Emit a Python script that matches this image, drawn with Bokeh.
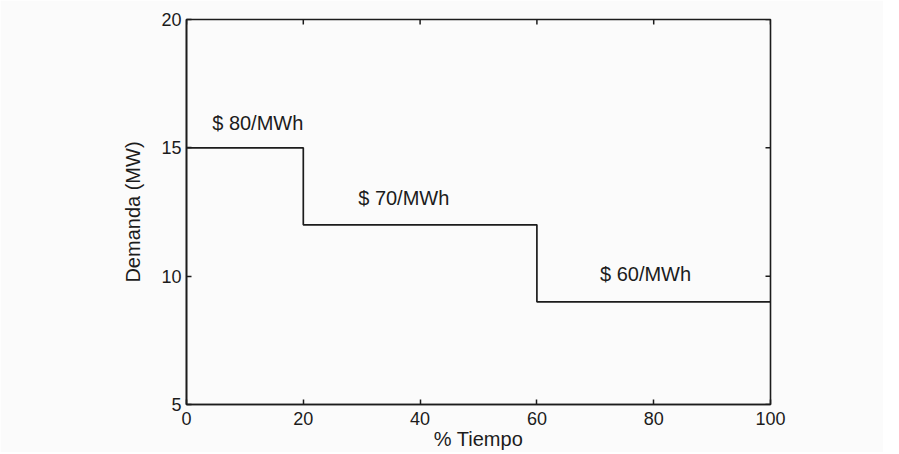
import math
from bokeh.plotting import figure
from bokeh.models import Range1d, FixedTicker
from bokeh.core.properties import value
from bokeh.embed import file_html
from bokeh.resources import INLINE

# Data
tiempo = [0, 20, 60, 100]          # % Tiempo breakpoints
demanda = [15, 12, 9, 9]           # MW per block
precios = ["$ 80/MWh", "$ 70/MWh", "$ 60/MWh"]
label_x = [4.4, 29.4, 70.8]
label_y = [15.95, 13.05, 10.1]
x_ticks = [0, 20, 40, 60, 80, 100]
y_ticks = [5, 10, 15, 20]

FONT = "Liberation Sans"
INK = "#1c1c1c"
BG = "#fbfbfb"

p = figure(width=883, height=452, output_backend="svg", toolbar_location=None,
           x_range=Range1d(0, 100), y_range=Range1d(5, 20),
           min_border_left=186, min_border_right=113,
           min_border_top=19, min_border_bottom=47)
p.background_fill_color = BG
p.border_fill_color = BG
p.outline_line_color = INK
p.outline_line_width = 1.6
p.grid.visible = False

p.step(x=tiempo, y=demanda, mode="after", line_color=INK, line_width=1.7)

p.text(x=label_x, y=label_y, text=precios, text_font=value(FONT),
       text_font_size="20px", text_color=INK, text_align="left",
       text_baseline="middle")

# inward ticks on the top and right edges (mirroring the main axes)
p.scatter(x=x_ticks, y=[y_ticks[-1]] * len(x_ticks), marker="dash", size=10,
          angle=math.pi / 2, line_color=INK, line_width=1.5)
p.scatter(x=[x_ticks[-1]] * len(y_ticks), y=y_ticks, marker="dash", size=10,
          line_color=INK, line_width=1.5)

for ax in (p.xaxis[0], p.yaxis[0]):
    ax.major_tick_in = 5
    ax.major_tick_out = 0
    ax.minor_tick_line_color = None
    ax.axis_line_color = INK
    ax.axis_line_width = 1.6
    ax.major_tick_line_color = INK
    ax.major_tick_line_width = 1.5
    ax.major_label_text_font = FONT
    ax.major_label_text_font_size = "18px"
    ax.major_label_text_color = INK
    ax.axis_label_text_font = FONT
    ax.axis_label_text_font_size = "20px"
    ax.axis_label_text_font_style = "normal"
    ax.axis_label_text_color = INK

p.xaxis[0].ticker = FixedTicker(ticks=x_ticks)
p.yaxis[0].ticker = FixedTicker(ticks=y_ticks)
p.xaxis[0].axis_label = "% Tiempo"
p.yaxis[0].axis_label = "Demanda (MW)"
p.xaxis[0].major_label_standoff = 7
p.xaxis[0].axis_label_standoff = 0
p.yaxis[0].major_label_standoff = 5
p.yaxis[0].axis_label_standoff = 14

open("out.html", "w").write(file_html(p, INLINE))
